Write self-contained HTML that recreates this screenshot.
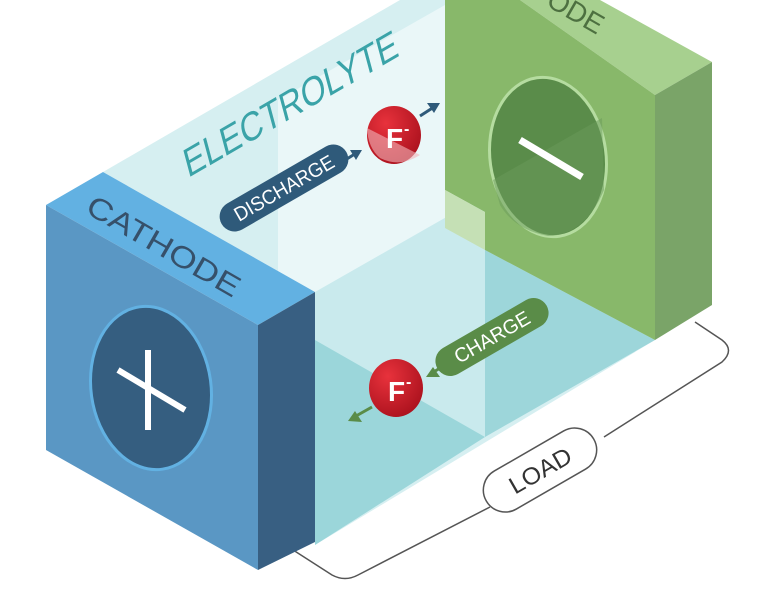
<!DOCTYPE html>
<html><head><meta charset="utf-8"><style>
html,body{margin:0;padding:0;background:#fff;width:768px;height:590px;overflow:hidden}
svg{display:block}
text{font-family:"Liberation Sans",sans-serif}
</style></head><body>
<svg width="768" height="590" viewBox="0 0 768 590" xmlns="http://www.w3.org/2000/svg">
<defs>
<radialGradient id="rb" cx="0.35" cy="0.3" r="0.8"><stop offset="0" stop-color="#e8323c"/><stop offset="1" stop-color="#a8101c"/></radialGradient>
</defs>
<path d="M695 322 L722 340 Q735 350 722 362 L604 437" fill="none" stroke="#555" stroke-width="1.5"/>
<path d="M490 507 L358 575 Q345 582 332 575 L290 548" fill="none" stroke="#555" stroke-width="1.5"/>
<g transform="translate(540,470) rotate(-30)">
<rect x="-62" y="-22" width="124" height="44" rx="22" fill="#fff" stroke="#555" stroke-width="1.5"/>
<text x="-34" y="9" font-size="24" textLength="68" lengthAdjust="spacingAndGlyphs" fill="#333">LOAD</text></g>
<polygon points="103,172 400,0 445,0 445,220 655,340 315,545 315,292" fill="#d6eff1"/>
<polygon points="278,100 445,5 445,190 485,212 485,250 315,292 278,290" fill="#eaf7f8"/>
<polygon points="315,292 485,195 485,437 315,340" fill="#c9eaed"/>
<polygon points="315,340 485,437 315,545" fill="#9bd6da"/>
<polygon points="485,250 655,340 485,437" fill="#9dd6da"/>
<polygon points="520,0 600,0 712,62 655,95" fill="#a7d08f"/>
<polygon points="445,0 520,0 655,95 655,340 485,250 485,212 445,190" fill="#88b86a"/>
<polygon points="445,190 485,212 485,250 445,228" fill="#c5e0b5"/>
<polygon points="655,95 712,62 712,305 655,340" fill="#7aa468"/>
<ellipse cx="548" cy="157" rx="58" ry="80" fill="#5a8c4a" stroke="#b5dca0" stroke-width="3" transform="rotate(-8 548 157)"/>
<path d="M493 180 L602 118 L604 190 Q585 235 548 236 Q515 230 500 205Z" fill="#6a9a5a" opacity="0.5"/>
<line x1="520" y1="140" x2="582" y2="177" stroke="#fff" stroke-width="7"/>
<text transform="translate(545,5) rotate(30)" font-size="28" textLength="60" lengthAdjust="spacingAndGlyphs" fill="#4d7040">ODE</text>
<polygon points="46,205 103,172 315,292 258,325" fill="#62b1e2"/>
<polygon points="46,205 258,325 258,570 46,450" fill="#5a97c4"/>
<polygon points="258,325 315,292 315,542 258,570" fill="#385f82"/>
<ellipse cx="151" cy="388" rx="60" ry="82" fill="#355e80" stroke="#62b1e2" stroke-width="3" transform="rotate(-8 151 388)"/>
<line x1="148" y1="350" x2="148" y2="430" stroke="#fff" stroke-width="6"/>
<line x1="118" y1="370" x2="185" y2="410" stroke="#fff" stroke-width="6"/>
<text transform="translate(84,212) rotate(30)" font-size="30" textLength="172" lengthAdjust="spacingAndGlyphs" fill="#36506a">CATHODE</text>
<text transform="translate(188,178) rotate(-30) skewX(-15)" font-size="38" textLength="245" lengthAdjust="spacingAndGlyphs" fill="#3aa3a8">ELECTROLYTE</text>
<g transform="translate(284,188) rotate(-30)">
<rect x="-72" y="-15" width="144" height="30" rx="15" fill="#2f5a7a"/>
<text x="-56" y="7" font-size="20" textLength="112" lengthAdjust="spacingAndGlyphs" fill="#fff">DISCHARGE</text></g>
<line x1="342" y1="162" x2="358" y2="152" stroke="#2f5a7a" stroke-width="3"/>
<polygon points="362,150 350,150 356,160" fill="#2f5a7a"/>
<ellipse cx="394" cy="135" rx="27" ry="29" fill="url(#rb)"/>
<path d="M367 128 L420 155 Q400 168 380 158 Q368 148 367 128Z" fill="#f2b5ba" opacity="0.6"/>
<text x="386" y="148" font-size="28" font-weight="bold" fill="#fff">F</text><text x="404" y="134" font-size="16" font-weight="bold" fill="#fff">-</text>
<line x1="420" y1="116" x2="434" y2="107" stroke="#2f5a7a" stroke-width="3"/>
<polygon points="440,103 427,103 434,113" fill="#2f5a7a"/>
<g transform="translate(492,337) rotate(-30)">
<rect x="-63" y="-15" width="126" height="30" rx="15" fill="#5a8c48"/>
<text x="-42" y="7" font-size="20" textLength="84" lengthAdjust="spacingAndGlyphs" fill="#fff">CHARGE</text></g>
<line x1="445" y1="365" x2="432" y2="373" stroke="#5a8c48" stroke-width="3"/>
<polygon points="426,377 440,377 433,367" fill="#5a8c48"/>
<ellipse cx="396" cy="388" rx="27" ry="29" fill="url(#rb)"/>
<text x="388" y="401" font-size="28" font-weight="bold" fill="#fff">F</text><text x="406" y="387" font-size="16" font-weight="bold" fill="#fff">-</text>
<line x1="372" y1="407" x2="356" y2="416" stroke="#5a8c48" stroke-width="3"/>
<polygon points="348,421 362,422 355,411" fill="#5a8c48"/>
</svg>
</body></html>
